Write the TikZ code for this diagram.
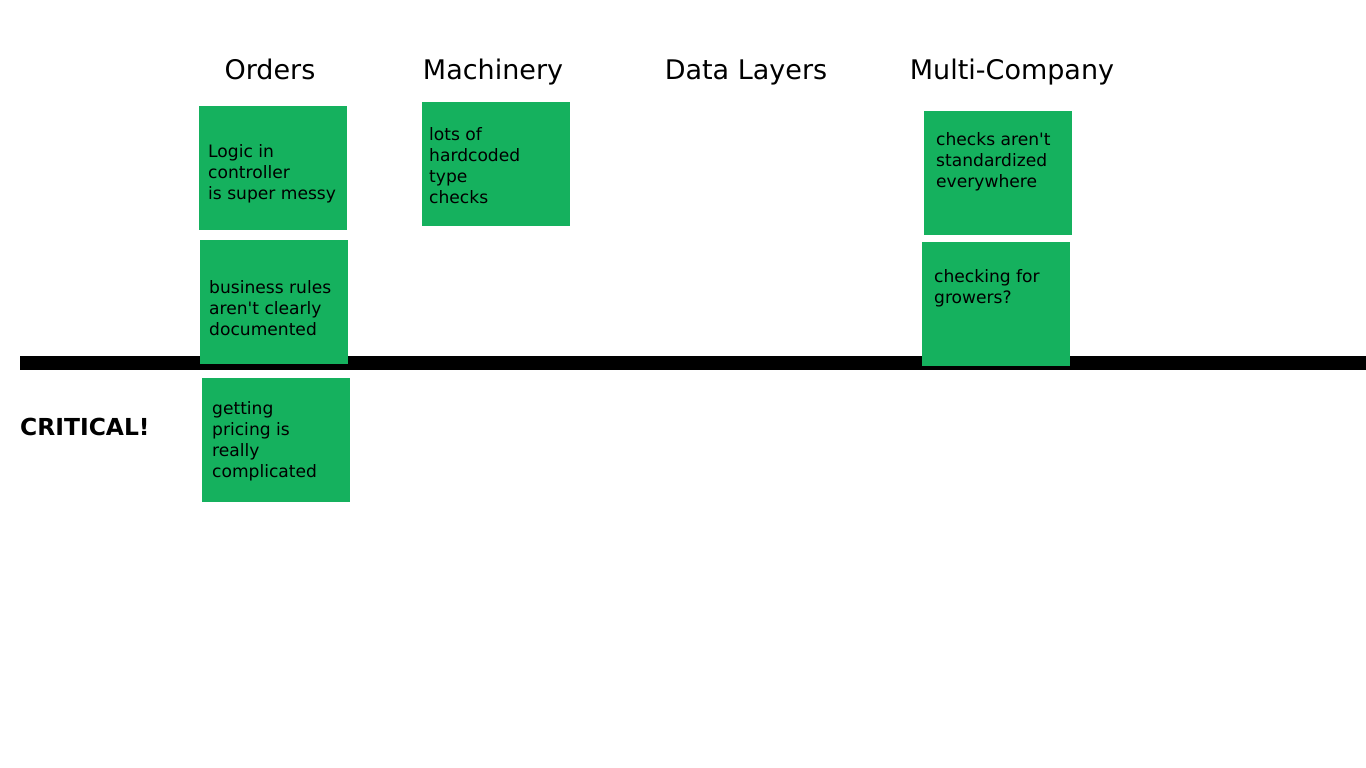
\documentclass[tikz,border=0pt]{standalone}
\usepackage{fontspec}
\setmainfont{DejaVu Sans}[Ligatures=TeXOff]
\definecolor{sticky}{RGB}{21,177,94}
\begin{document}
\begin{tikzpicture}[x=1pt,y=-1pt,
  note/.style={fill=sticky,draw=none,minimum width=148pt,minimum height=124pt,inner sep=0pt,anchor=north west},
  notetext/.style={anchor=base west,align=left,inner sep=0pt,font=\fontsize{17.1}{21}\selectfont},
  title/.style={anchor=base,inner sep=0pt,font=\fontsize{27}{30}\selectfont}]
\useasboundingbox (0,0) rectangle (1366,768);
\fill[white] (0,0) rectangle (1366,768);
% bar
\coordinate (barL) at (20,363);
\coordinate (barR) at (1366,363);
\draw[line width=14pt] (barL) -- (barR);
% titles
\node[title] (tOrders) at (270,79.5) {Orders};
\node[title] (tMach) at (493,79.5) {Machinery};
\node[title] (tData) at (746,79.5) {Data Layers};
\node[title] (tMulti) at (1012,79.5) {Multi-Company};
\node[anchor=base west,inner sep=0pt,font=\bfseries\fontsize{23.4}{27}\selectfont] (crit) at (20,435) {CRITICAL!};
% notes
\node[note] (n1) at (199,106) {};
\node[notetext] (n1t) at (208,199) {Logic in\\controller\\is super messy};
\node[note] (n2) at (200,240) {};
\node[notetext] (n2t) at (209,335) {business rules\\aren't clearly\\documented};
\node[note] (n3) at (202,378) {};
\node[notetext] (n3t) at (212,477) {getting\\pricing is\\really\\complicated};
\node[note] (n4) at (422,102) {};
\node[notetext] (n4t) at (429,203) {lots of\\hardcoded\\type\\checks};
\node[note] (n5) at (924,111) {};
\node[notetext] (n5t) at (936,187) {checks aren't\\standardized\\everywhere};
\node[note] (n6) at (922,242) {};
\node[notetext] (n6t) at (934,303) {checking for\\growers?};
\end{tikzpicture}
\end{document}
